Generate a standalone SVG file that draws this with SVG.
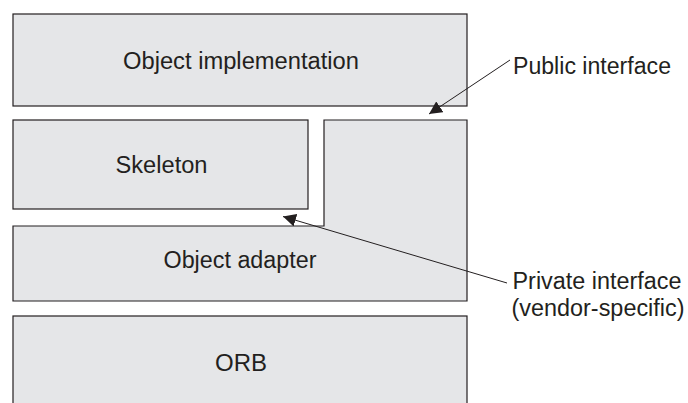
<svg xmlns="http://www.w3.org/2000/svg" width="688" height="403" viewBox="0 0 688 403">
  <style>
    .box { fill: #e5e6e8; stroke: #231f20; stroke-width: 1.2; }
    .lbl { font-family: "Liberation Sans", Arial, Helvetica, sans-serif; font-size: 23px; fill: #231f20; }
    .mid { text-anchor: middle; }
    .conn { fill: none; stroke: #231f20; stroke-width: 1; }
  </style>
  <defs>
    <marker id="head" markerUnits="userSpaceOnUse" markerWidth="14" markerHeight="13" refX="13" refY="6.5" orient="auto">
      <path d="M0,0 L13,6.5 L0,13 Z" fill="#231f20"/>
    </marker>
  </defs>
  <rect width="688" height="403" fill="#ffffff"/>

  <g id="object-implementation">
    <rect class="box" x="13" y="14" width="454" height="92"/>
    <text class="lbl mid" x="241" y="69" textLength="236" lengthAdjust="spacingAndGlyphs">Object implementation</text>
  </g>

  <g id="skeleton">
    <rect class="box" x="13" y="120" width="295" height="89"/>
    <text class="lbl mid" x="161.5" y="173" textLength="92" lengthAdjust="spacingAndGlyphs">Skeleton</text>
  </g>

  <g id="object-adapter">
    <path class="box" d="M324,120 H467 V301 H13 V226 H324 Z"/>
    <text class="lbl mid" x="240" y="268" textLength="153" lengthAdjust="spacingAndGlyphs">Object adapter</text>
  </g>

  <g id="orb">
    <rect class="box" x="13" y="316" width="454" height="100"/>
    <text class="lbl mid" x="241" y="371" textLength="52" lengthAdjust="spacingAndGlyphs">ORB</text>
  </g>

  <g id="public-interface">
    <text class="lbl" x="513" y="74" textLength="158" lengthAdjust="spacingAndGlyphs">Public interface</text>
  </g>

  <g id="private-interface">
    <text class="lbl" x="512.5" y="289" textLength="169" lengthAdjust="spacingAndGlyphs">Private interface</text>
    <text class="lbl" x="511.5" y="316" textLength="173" lengthAdjust="spacingAndGlyphs">(vendor-specific)</text>
  </g>

  <g id="connectors">
    <line class="conn" x1="510" y1="60" x2="429" y2="114" marker-end="url(#head)"/>
    <line class="conn" x1="507" y1="283" x2="283" y2="216.5" marker-end="url(#head)"/>
  </g>
</svg>
